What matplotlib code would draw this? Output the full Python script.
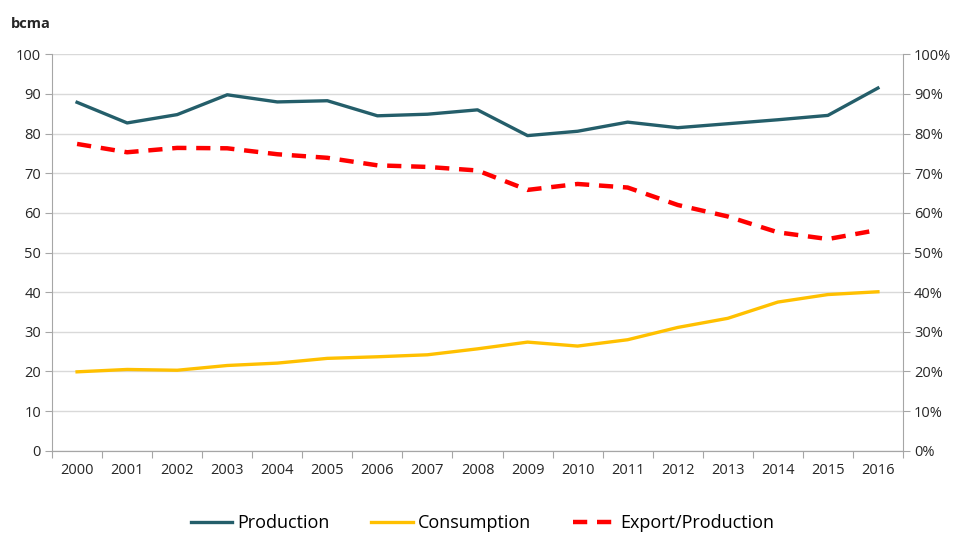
import numpy as np
import matplotlib.pyplot as plt
from matplotlib.ticker import FuncFormatter

plt.rcParams['font.family'] = ['Open Sans', 'DejaVu Sans']

years = [str(y) for y in range(2000, 2017)]
production = [87.9, 82.7, 84.8, 89.8, 88.0, 88.3, 84.5, 84.9, 86.0,
              79.5, 80.6, 82.9, 81.5, 82.5, 83.5, 84.6, 91.5]
consumption = [19.9, 20.5, 20.3, 21.5, 22.1, 23.3, 23.7, 24.2, 25.7,
               27.4, 26.4, 28.0, 31.1, 33.4, 37.5, 39.4, 40.1]
export_share = [77.4, 75.3, 76.4, 76.3, 74.8, 73.9, 72.0, 71.6, 70.7,
                65.8, 67.3, 66.4, 62.0, 59.1, 55.1, 53.4, 55.7]

c_prod = '#245E6A'
c_cons = '#FFC000'
c_exp = '#FF0000'
grid_c = '#D9D9D9'
axis_c = '#A6A6A6'

fig = plt.figure(figsize=(9.55, 5.33), dpi=100)
ax = fig.add_axes([0.0545, 0.1544, 0.891, 0.7436])
ax2 = ax.twinx()

x = np.arange(len(years))
l1, = ax.plot(x, production, color=c_prod, lw=2.4, label='Production')
l2, = ax.plot(x, consumption, color=c_cons, lw=2.4, label='Consumption')
l3, = ax2.plot(x, np.array(export_share) / 100, color=c_exp, lw=3.2,
               dashes=(3.2, 2.2), label='Export/Production')

ax.set_xlim(-0.5, len(years) - 0.5)
ax.set_ylim(0, 100)
ax.set_yticks(range(0, 101, 10))
ax2.set_ylim(0, 1)
ax2.set_yticks(np.arange(0, 1.01, 0.1))
ax2.yaxis.set_major_formatter(FuncFormatter(lambda v, p: f'{v * 100:.0f}%'))

# ticks between categories, labels centred on them
ax.set_xticks(np.arange(-0.5, len(years), 1))
ax.set_xticklabels([])
ax.set_xticks(x, minor=True)
ax.set_xticklabels(years, minor=True)
ax.tick_params(axis='x', which='major', length=5, color=axis_c)
ax.tick_params(axis='x', which='minor', length=0, pad=9, labelsize=10.5, labelcolor='#262626')
ax.tick_params(axis='y', length=5, color=axis_c, labelsize=10.5, labelcolor='#262626', pad=3)
ax2.tick_params(axis='y', length=5, color=axis_c, labelsize=10.5, labelcolor='#262626', pad=3)

ax.grid(axis='y', color=grid_c, lw=1)
ax.set_axisbelow(True)
for a in (ax, ax2):
    a.spines['top'].set_visible(False)
    for s in ('left', 'right', 'bottom'):
        a.spines[s].set_color(axis_c)
ax2.spines['left'].set_visible(False)
ax.spines['right'].set_visible(False)

fig.text(0.011, 0.955, 'bcma', fontsize=10.5, fontweight='bold', color='#262626',
         va='center', ha='left')

fig.legend(handles=[l1, l2, l3], loc='center', bbox_to_anchor=(0.505, 0.018),
           ncol=3, frameon=False, fontsize=13, handlelength=2.3,
           columnspacing=2.3, handletextpad=0.3, borderaxespad=0)

fig.savefig('out.png', dpi=100)
